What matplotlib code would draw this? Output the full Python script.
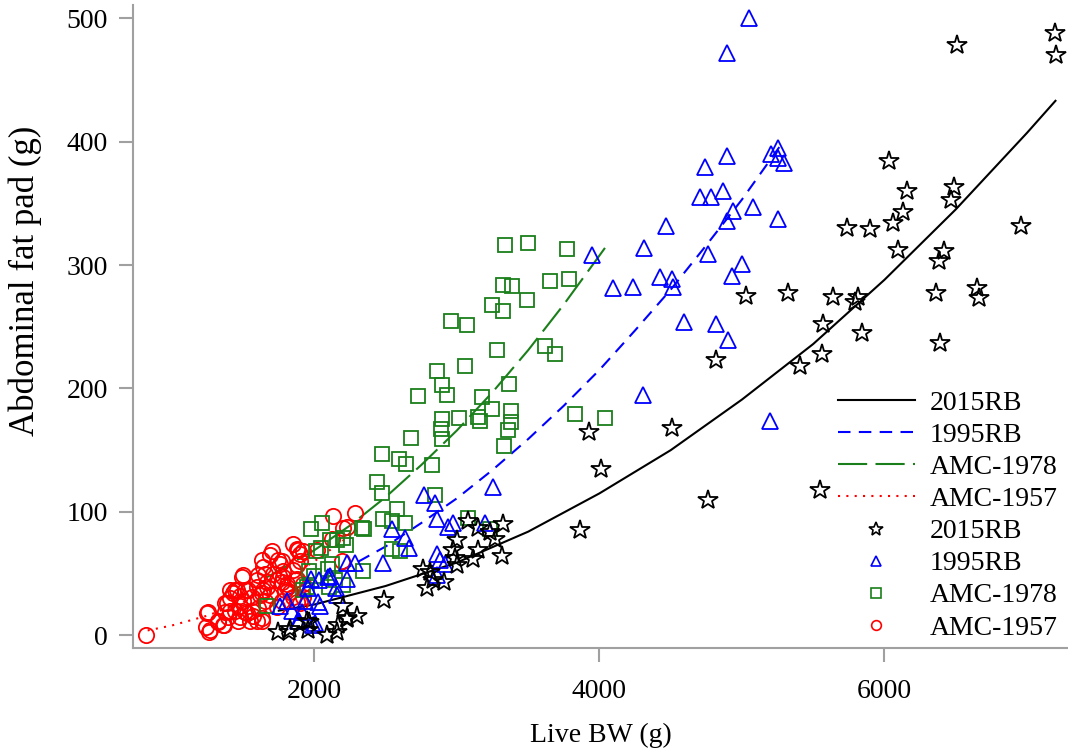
import numpy as np
import matplotlib
matplotlib.use("Agg")
import matplotlib.pyplot as plt
from matplotlib.lines import Line2D

plt.rcParams['font.family'] = ['Liberation Serif', 'DejaVu Serif']

# scatter data (live BW g, abdominal fat pad g)
rb2015_x = [7197, 7204, 6512, 6030, 6159, 6491, 6468, 6128, 6061, 5738, 5899, 6959, 6093, 6418,
            6385, 6362, 6648, 6666, 5815, 5641, 5321, 5029, 5793, 5569, 5562, 5842, 6390, 5407,
            4818, 3927, 4509, 4011, 5547, 4762, 3864, 3326, 3075, 3150, 3232, 3267, 2999, 3150,
            2975, 2987, 3115, 2999, 3314, 2760, 2811, 2788, 2835, 2912, 2488, 2203, 2297, 2231,
            2168, 2156, 2086, 1964, 1957, 1824, 1747, 2227, 1946, 1830]
rb2015_y = [488, 470, 478, 384, 360, 363, 353, 343, 334, 330, 329, 332, 312, 311,
            303, 277, 281, 273, 274, 274, 277, 275, 270, 252, 228, 245, 237, 218,
            223, 165, 168, 135, 118, 110, 85, 90, 93, 87, 84, 78, 77, 69,
            69, 63, 62, 57, 64, 54, 51, 38, 45, 43, 29, 24, 16, 14,
            8, 3, 0, 11, 4, 3, 3, 13, 12, 5]

rb1995_x = [5050, 4895, 4895, 4739, 5202, 5256, 5251, 5298, 4706, 4783, 4865, 4935, 4895, 5080,
            5251, 4467, 4311, 4764, 5001, 4928, 3946, 4428, 4507, 4519, 4238, 4097, 4593, 4818,
            4902, 4308, 5200, 3256, 2771, 2846, 2858, 2940, 2975, 3197, 2547, 2636, 2666, 2479,
            2858, 2881, 2916, 2858, 2231, 2285, 1974, 2034, 2109, 2231, 2161, 2039, 1759, 1806,
            1841, 1894, 2004, 1911, 1934, 2027, 1992, 1887, 2098, 2152, 1957]
rb1995_y = [500, 472, 388, 379, 390, 395, 387, 383, 355, 355, 360, 344, 336, 347,
            337, 332, 314, 309, 301, 291, 308, 290, 289, 282, 282, 281, 254, 252,
            239, 195, 174, 120, 114, 107, 94, 88, 91, 91, 86, 79, 71, 59,
            66, 61, 58, 49, 59, 59, 46, 45, 48, 46, 33, 24, 24, 28,
            20, 12, 10, 19, 28, 27, 8, 12, 47, 38, 38]

amc1978_x = [3326, 3389, 3490, 3244, 3326, 2959, 3073, 3281, 3057, 2858, 2898, 2933, 2729, 3174,
             3366, 3244, 3377, 3377, 3357, 3331, 3150, 3160, 3017, 2893, 2886, 2893, 2676, 2472,
             2594, 2641, 2823, 2441, 2472, 2846, 2578, 2479, 2542, 2636, 2332, 2348, 2051, 1974,
             3080, 3232, 3337, 3497, 3772, 3653, 3785, 3618, 3688, 3829, 4042, 2156, 2221, 2109,
             2046, 2011, 2547, 2601, 2121, 2098, 1964, 2339, 2144, 2203, 2105, 1946, 1665, 1922,
             2000, 2200]
amc1978_y = [284, 283, 272, 268, 263, 255, 251, 231, 218, 214, 203, 195, 194, 193,
             204, 183, 182, 173, 166, 153, 177, 174, 176, 175, 167, 159, 160, 147,
             143, 139, 138, 124, 115, 114, 102, 94, 93, 91, 87, 86, 91, 86,
             95, 86, 316, 318, 313, 287, 289, 234, 228, 179, 176, 77, 73, 77,
             71, 68, 70, 68, 58, 54, 52, 52, 45, 41, 39, 39, 24, 37,
             48, 79]

amc1957_x = [818, 1249, 1239, 1258, 1326, 1366, 1384, 1408, 1430, 1456, 1490, 1500, 1525, 1548,
             1513, 1560, 1595, 1595, 1630, 1630, 1700, 1747, 1770, 1641, 1665, 1689, 1618, 1735,
             1782, 1805, 1794, 1852, 1887, 1899, 1876, 1864, 1922, 1922, 1899, 2016, 2133, 2285,
             2203, 2227, 2192, 2121, 1478, 1408, 1876, 1689, 1759, 1899, 1852, 1497, 1606, 1443,
             1408, 1478, 1537, 1595, 1630, 1665, 1770, 1806, 1829, 1852, 1876, 1770, 1735, 1653,
             1606, 1571, 1630, 1513, 1478, 1443, 1373, 1373, 1396, 1326, 1255, 1267, 1361, 1466,
             1560, 1876, 1653, 1917, 1710, 1780, 1640]
amc1957_y = [0, 18, 7, 3, 11, 8, 26, 20, 34, 37, 47, 28, 18, 12,
             37, 31, 45, 12, 12, 61, 68, 61, 60, 37, 39, 33, 33, 45,
             47, 42, 37, 74, 69, 66, 57, 45, 42, 31, 26, 69, 97, 99,
             87, 88, 60, 78, 24, 37, 70, 65, 58, 60, 53, 49, 49, 37,
             30, 32, 37, 39, 34, 43, 43, 39, 35, 31, 27, 28, 23, 28,
             22, 16, 14, 19, 15, 20, 26, 19, 15, 12, 19, 4, 8, 12,
             20, 46, 50, 68, 50, 52, 55]

# fitted curves
fit2015_x = [1750, 2000, 2500, 3000, 3500, 4000, 4500, 5000, 5500, 6000, 6500, 7000, 7200]
fit2015_y = [20, 25, 40, 59, 84, 115, 150, 191, 236, 288, 345, 407, 433]
fit1995_x = [1780, 2000, 2250, 2500, 2750, 3000, 3250, 3500, 3750, 4000, 4250, 4500, 4750, 5000, 5290]
fit1995_y = [31, 42, 56, 72, 91, 111, 134, 159, 186, 215, 247, 280, 316, 353, 400]
fit1978_x = [1650, 2000, 2250, 2500, 2750, 3000, 3250, 3500, 3750, 4040]
fit1978_y = [46, 69, 89, 112, 138, 166, 197, 231, 268, 314]
fit1957_x = [830, 1000, 1250, 1500, 1750, 2000, 2300]
fit1957_y = [4, 8, 16, 27, 42, 60, 85]

blue = '#0000ff'
green = '#1a7f1a'
red = '#ff0000'

fig = plt.figure(figsize=(10.68, 7.53), dpi=100)
ax = fig.add_axes([0.1245, 0.139, 0.8755, 0.855])

l1, = ax.plot(fit2015_x, fit2015_y, color='black', lw=1.5, label='2015RB')
l2, = ax.plot(fit1995_x, fit1995_y, color=blue, lw=1.5, dashes=(6, 4), label='1995RB')
l3, = ax.plot(fit1978_x, fit1978_y, color=green, lw=1.5, dashes=(14, 4), label='AMC-1978')
l4, = ax.plot(fit1957_x, fit1957_y, color=red, lw=1.5, dashes=(1, 3), label='AMC-1957')

mew = 1.3
ax.plot(amc1957_x, amc1957_y, 'o', ms=11, mfc='none', mec=red, mew=mew)
ax.plot(amc1978_x, amc1978_y, 's', ms=10, mfc='none', mec=green, mew=mew)
ax.plot(rb1995_x, rb1995_y, '^', ms=11, mfc='none', mec=blue, mew=mew)
ax.plot(rb2015_x, rb2015_y, '*', ms=15, mfc='none', mec='black', mew=mew)

handles = [l1, l2, l3, l4,
           Line2D([], [], ls='none', marker='*', ms=10, mfc='none', mec='black', mew=1.2),
           Line2D([], [], ls='none', marker='^', ms=7, mfc='none', mec=blue, mew=1.2),
           Line2D([], [], ls='none', marker='s', ms=7, mfc='none', mec=green, mew=1.2),
           Line2D([], [], ls='none', marker='o', ms=7, mfc='none', mec=red, mew=1.2)]
labels = ['2015RB', '1995RB', 'AMC-1978', 'AMC-1957', '2015RB', '1995RB', 'AMC-1978', 'AMC-1957']
ax.legend(handles, labels, loc='lower left', bbox_to_anchor=(0.754, 0.012), frameon=False,
          fontsize=20, handlelength=2.77, handletextpad=0.54, labelspacing=0.24,
          borderpad=0, borderaxespad=0)

ax.set_xlim(727, 7288)
ax.set_ylim(-10.5, 511)
ax.set_xticks([2000, 4000, 6000])
ax.set_yticks([0, 100, 200, 300, 400, 500])
for s in ['top', 'right']:
    ax.spines[s].set_visible(False)
for s in ['left', 'bottom']:
    ax.spines[s].set_color('#a0a0a0')
    ax.spines[s].set_linewidth(1.5)
ax.tick_params(direction='out', length=10, width=1.5, color='#a0a0a0', labelsize=20)
ax.tick_params(axis='x', pad=12)
ax.tick_params(axis='y', pad=8)

ax.set_xlabel('Live BW (g)', fontsize=20, labelpad=14)
ax.set_ylabel('Abdominal fat pad (g)', fontsize=25)
ax.yaxis.set_label_coords(-0.097, 0.57)

fig.savefig('out.png', dpi=100)
